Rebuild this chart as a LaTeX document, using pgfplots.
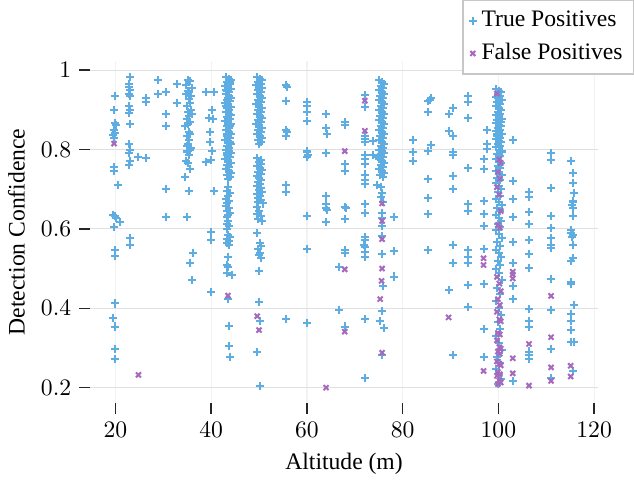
\documentclass[border=0pt]{standalone}
\usepackage{fontspec}
\setmainfont{Liberation Serif}
\usepackage{pgfplots}
\pgfplotsset{compat=1.18}
\definecolor{tpblue}{HTML}{5DADE2}
\definecolor{fppurple}{HTML}{A569BD}
\begin{document}
\begin{tikzpicture}
\begin{axis}[
  scale only axis, width=215pt, height=145pt,
  xmin=14.7, xmax=120.8, ymin=0.161, ymax=1.024,
  axis line style={draw=none},
  tick align=outside, major tick length=4.5pt,
  tick style={black!85, line width=0.6pt},
  xtick={20,40,60,80,100,120}, ytick={0.2,0.4,0.6,0.8,1},
  xtick pos=left, ytick pos=left,
  grid=major,
  y grid style={black!12, line width=0.5pt},
  x grid style={black!5, line width=0.5pt},
  xlabel={Altitude (m)}, ylabel={Detection Confidence},
  label style={font=\normalsize},
  legend style={at={(1.071,1.177)}, anchor=north east, draw=black!22, line width=0.6pt, font=\normalsize, row sep=1.5pt, inner sep=2.5pt},
  legend cell align=left,
  legend image code/.code={\draw[#1] plot coordinates {(0.1cm,0cm)};},
]
\addplot[only marks, mark=+, mark size=1.7pt, color=tpblue, mark options={line width=0.85pt, draw=tpblue}] table[row sep=\\] {
x y\\
19.8 0.935\\ 19.6 0.90\\ 19.9 0.868\\ 20.2 0.862\\ 19.6 0.848\\ 19.9 0.842\\ 19.5 0.836\\ 19.7 0.83\\ 19.7 0.755\\ 19.7 0.745\\ 20.6 0.71\\ 19.5 0.635\\ 19.9 0.632\\ 20.1 0.627\\ 20.9 0.617\\ 19.7 0.605\\ 20 0.547\\ 20 0.532\\ 20 0.412\\ 19.5 0.375\\ 19.8 0.354\\ 19.8 0.298\\ 19.9 0.272\\
23 0.983\\ 22.9 0.965\\ 22.8 0.958\\ 23 0.95\\ 22.9 0.94\\ 23 0.935\\ 22.9 0.91\\ 23 0.90\\ 22.9 0.893\\ 23 0.865\\ 22.9 0.815\\ 23 0.80\\ 22.9 0.79\\ 23 0.77\\ 22.9 0.76\\ 23 0.576\\ 23 0.56\\
24.8 0.78\\ 26.3 0.778\\ 26.3 0.93\\ 26.3 0.92\\ 28.8 0.975\\ 28.8 0.94\\ 30.5 0.945\\ 30.5 0.89\\ 30.5 0.86\\ 30.5 0.70\\ 30.5 0.63\\ 32.8 0.965\\ 32.8 0.917\\
35.2 0.975\\ 35.6 0.972\\ 34.8 0.962\\ 35.9 0.955\\ 35.1 0.948\\ 35.4 0.944\\ 34.7 0.94\\ 35.8 0.935\\ 35.3 0.928\\ 35.5 0.918\\ 35.0 0.91\\ 35.7 0.90\\ 35.2 0.895\\ 35.9 0.89\\ 35.4 0.885\\ 34.9 0.878\\ 35.6 0.87\\ 35.1 0.864\\ 34.6 0.86\\ 35.3 0.845\\ 35.5 0.84\\ 35.0 0.835\\ 35.4 0.825\\ 35.2 0.815\\ 34.9 0.81\\ 35.7 0.805\\ 35.6 0.80\\ 35.0 0.795\\ 35.3 0.785\\ 34.8 0.77\\ 35.1 0.765\\ 35.6 0.752\\ 34.5 0.73\\ 35.3 0.695\\ 35 0.63\\ 36.1 0.54\\ 35.6 0.515\\ 36 0.47\\
38.9 0.945\\ 40.5 0.945\\ 40.2 0.90\\ 39.5 0.88\\ 40.3 0.877\\ 39.7 0.843\\ 39.7 0.82\\ 40.2 0.797\\ 40 0.773\\ 38.9 0.768\\ 40.5 0.695\\ 40 0.593\\ 40 0.572\\ 40 0.44\\
43.0 0.983\\ 43.7 0.978\\ 44.1 0.974\\ 43.3 0.97\\ 43.9 0.965\\ 42.9 0.96\\ 43.5 0.956\\ 44.2 0.952\\ 43.2 0.948\\ 43.8 0.944\\ 43.0 0.94\\ 43.7 0.935\\ 44.1 0.93\\ 43.3 0.926\\ 43.9 0.922\\ 42.9 0.918\\ 43.5 0.913\\ 44.2 0.908\\ 43.2 0.904\\ 43.8 0.90\\ 43.0 0.895\\ 43.7 0.89\\ 44.1 0.886\\ 43.3 0.882\\ 43.9 0.878\\ 42.9 0.873\\ 43.5 0.868\\ 44.2 0.864\\ 43.2 0.86\\ 43.8 0.855\\ 43.0 0.85\\ 43.7 0.845\\ 44.1 0.84\\ 43.3 0.835\\ 43.9 0.83\\ 42.9 0.825\\ 43.5 0.82\\ 44.2 0.815\\ 43.2 0.81\\ 43.8 0.805\\ 43.0 0.80\\ 43.7 0.795\\ 44.1 0.79\\ 43.3 0.785\\ 43.9 0.78\\ 42.9 0.775\\ 43.5 0.77\\ 44.2 0.765\\ 43.2 0.76\\ 43.8 0.755\\ 43.0 0.75\\ 43.7 0.745\\ 44.1 0.74\\ 43.3 0.735\\ 43.9 0.73\\ 43.5 0.725\\
44.0 0.97\\ 43.1 0.95\\ 43.6 0.93\\ 43.1 0.91\\ 43.6 0.88\\ 44.0 0.86\\ 43.2 0.84\\ 43.9 0.82\\ 43.4 0.79\\
43.6 0.705\\ 43.2 0.695\\ 43.9 0.69\\ 43.5 0.683\\ 43.1 0.676\\ 43.8 0.67\\ 43.4 0.664\\ 43.0 0.658\\ 43.7 0.652\\ 43.3 0.646\\ 43.9 0.64\\ 43.5 0.635\\ 43.2 0.63\\ 43.6 0.62\\ 43.4 0.612\\ 43.8 0.607\\ 43.3 0.60\\ 43.5 0.585\\ 43.9 0.58\\ 43.2 0.575\\ 43.7 0.57\\ 43.4 0.565\\ 43.8 0.56\\ 43.6 0.53\\ 43.3 0.51\\ 43.5 0.505\\ 43.4 0.488\\ 44.3 0.484\\ 43.6 0.424\\ 43.8 0.356\\ 43.7 0.304\\ 43.9 0.278\\
49.5 0.983\\ 50.2 0.978\\ 50.7 0.974\\ 49.8 0.97\\ 50.4 0.966\\ 49.4 0.962\\ 50.0 0.958\\ 50.6 0.954\\ 49.7 0.95\\ 50.3 0.945\\ 49.5 0.94\\ 50.2 0.935\\ 50.7 0.93\\ 49.8 0.925\\ 50.4 0.92\\ 49.4 0.915\\ 50.0 0.91\\ 50.6 0.905\\ 49.7 0.90\\ 50.3 0.895\\ 49.5 0.89\\ 50.2 0.885\\ 50.7 0.88\\ 49.8 0.875\\ 50.4 0.87\\ 49.4 0.865\\ 50.0 0.86\\ 50.6 0.855\\ 49.7 0.85\\ 50.3 0.845\\ 49.5 0.84\\ 50.2 0.835\\ 50.7 0.83\\ 49.8 0.825\\ 50.4 0.82\\ 50.0 0.815\\
49.6 0.778\\ 50.3 0.773\\ 49.9 0.768\\ 50.5 0.763\\ 49.5 0.758\\ 50.1 0.753\\ 50.7 0.748\\ 49.8 0.743\\ 50.3 0.738\\ 49.6 0.733\\ 50.0 0.728\\ 50.5 0.723\\ 49.7 0.718\\ 50.2 0.713\\ 49.5 0.708\\ 50.4 0.703\\ 49.9 0.698\\ 50.6 0.693\\ 49.6 0.688\\ 50.1 0.683\\ 49.8 0.678\\ 50.3 0.673\\ 49.7 0.668\\
50.8 0.664\\ 49.5 0.655\\ 50.0 0.645\\ 49.6 0.638\\ 50.3 0.632\\ 49.7 0.625\\ 50.6 0.62\\ 49.6 0.589\\ 50.1 0.564\\ 50.5 0.558\\ 49.8 0.55\\ 50.2 0.54\\ 49.9 0.533\\ 50.4 0.526\\ 50.0 0.495\\ 50.0 0.416\\ 50.2 0.369\\ 49.6 0.29\\ 50.1 0.205\\
55.7 0.962\\ 55.9 0.958\\ 55.7 0.923\\ 55.6 0.85\\ 55.8 0.845\\ 55.7 0.835\\ 55.7 0.71\\ 55.7 0.693\\ 55.7 0.372\\
60.1 0.92\\ 60.1 0.91\\ 60.1 0.894\\ 60.1 0.872\\ 60.1 0.795\\ 60.2 0.787\\ 60.1 0.782\\ 60.1 0.633\\ 60.1 0.55\\ 60.1 0.363\\
64 0.89\\ 64 0.853\\ 64.1 0.838\\ 64 0.792\\ 64 0.683\\ 64 0.662\\ 64 0.652\\ 64.1 0.648\\ 64 0.618\\
66.7 0.505\\ 66.7 0.396\\
67.9 0.87\\ 67.9 0.862\\ 67.9 0.763\\ 67.9 0.746\\ 67.9 0.656\\ 68.1 0.652\\ 67.9 0.624\\ 67.9 0.547\\ 67.9 0.539\\ 67.9 0.354\\
72.1 0.937\\ 72.1 0.908\\ 72.1 0.835\\ 72.1 0.826\\ 72.1 0.82\\ 72.1 0.786\\ 72.1 0.777\\ 72.1 0.763\\ 72.1 0.737\\ 72.1 0.723\\ 72.1 0.713\\ 72.1 0.662\\ 72.1 0.641\\ 72.1 0.579\\ 72.1 0.572\\ 72 0.56\\ 72.1 0.555\\ 72.1 0.543\\ 72.1 0.53\\ 72.1 0.372\\ 72.1 0.225\\
73.9 0.822\\ 73.9 0.786\\
75.1 0.975\\ 75.7 0.97\\ 76.1 0.965\\ 75.4 0.96\\ 75.9 0.955\\ 75.0 0.95\\ 75.6 0.945\\ 76.2 0.94\\ 75.3 0.935\\ 75.8 0.93\\ 75.1 0.925\\ 75.7 0.92\\ 76.1 0.915\\ 75.4 0.91\\ 75.9 0.905\\ 75.0 0.90\\ 75.6 0.895\\ 76.2 0.89\\ 75.3 0.885\\ 75.8 0.88\\ 75.1 0.875\\ 75.7 0.87\\ 76.1 0.865\\ 75.4 0.86\\ 75.9 0.855\\ 75.0 0.85\\ 75.6 0.845\\ 76.2 0.84\\ 75.3 0.835\\ 75.8 0.83\\ 75.1 0.825\\ 75.7 0.82\\ 76.1 0.815\\ 75.4 0.81\\ 75.9 0.805\\ 75.0 0.80\\ 75.6 0.795\\ 76.2 0.79\\ 75.3 0.785\\ 75.8 0.78\\ 75.1 0.775\\ 75.7 0.77\\ 76.1 0.765\\ 75.4 0.76\\ 75.9 0.755\\ 75.0 0.75\\ 75.6 0.745\\ 76.2 0.74\\ 75.3 0.735\\ 75.8 0.73\\
75.5 0.706\\ 75.7 0.69\\ 75.4 0.68\\ 75.8 0.668\\ 75.6 0.64\\ 75.7 0.627\\ 75.6 0.608\\ 75.6 0.583\\ 75.7 0.537\\ 75.8 0.455\\ 75.7 0.394\\ 75.3 0.368\\ 76.0 0.35\\ 75.7 0.281\\ 74.6 0.71\\ 74.9 0.78\\
78.1 0.629\\ 78.1 0.544\\ 78.1 0.48\\
82.1 0.824\\ 82.1 0.793\\ 82.1 0.771\\
85.3 0.922\\ 85.3 0.895\\ 85.3 0.796\\ 85.3 0.726\\ 85.3 0.679\\ 85.3 0.637\\ 85.3 0.547\\ 86 0.929\\ 86 0.811\\ 85.8 0.925\\
89.6 0.889\\ 89.6 0.846\\ 89.6 0.446\\
90.5 0.905\\ 90.5 0.835\\ 90.5 0.794\\ 90.5 0.786\\ 90.5 0.733\\ 90.5 0.70\\ 90.5 0.56\\ 90.5 0.515\\ 90.5 0.281\\
93.6 0.935\\ 93.6 0.919\\ 93.6 0.88\\ 93.6 0.754\\ 93.6 0.662\\ 93.6 0.645\\ 93.6 0.547\\ 93.6 0.53\\ 93.6 0.513\\ 93.6 0.459\\ 93.6 0.404\\
96.9 0.775\\ 96.9 0.75\\ 96.9 0.67\\ 96.9 0.637\\ 96.9 0.607\\ 96.9 0.55\\ 96.9 0.46\\ 96.9 0.347\\ 96.9 0.277\\
97.6 0.85\\ 97.6 0.815\\ 97.6 0.801\\
99.6 0.952\\ 100.2 0.948\\ 100.6 0.944\\ 99.9 0.94\\ 100.4 0.936\\ 99.5 0.932\\ 100.1 0.928\\ 100.7 0.924\\ 99.8 0.92\\ 100.3 0.915\\ 99.6 0.91\\ 100.2 0.905\\ 100.6 0.90\\ 99.9 0.895\\ 100.4 0.89\\ 99.5 0.886\\ 100.1 0.882\\ 100.7 0.878\\ 99.8 0.874\\ 100.3 0.87\\ 99.6 0.866\\ 100.2 0.862\\ 100.6 0.858\\ 99.9 0.854\\ 100.4 0.85\\ 99.5 0.846\\ 100.1 0.842\\ 100.7 0.838\\ 99.8 0.834\\ 100.3 0.83\\ 99.6 0.826\\ 100.2 0.822\\ 100.6 0.818\\ 99.9 0.814\\ 100.4 0.81\\ 99.5 0.806\\ 100.1 0.80\\
100.0 0.93\\ 100.5 0.87\\ 99.7 0.84\\ 100.0 0.815\\
100.7 0.795\\ 99.8 0.789\\ 100.3 0.783\\ 99.6 0.777\\ 100.2 0.771\\ 100.6 0.765\\ 99.9 0.759\\ 100.4 0.753\\ 99.5 0.747\\ 100.1 0.741\\ 100.7 0.735\\ 99.8 0.729\\ 100.3 0.722\\ 99.6 0.715\\ 100.2 0.708\\ 100.6 0.70\\ 99.9 0.692\\ 100.4 0.684\\ 99.5 0.676\\ 100.1 0.668\\ 100.7 0.66\\ 99.8 0.652\\ 100.3 0.644\\ 99.6 0.636\\ 100.2 0.628\\ 100.6 0.62\\ 99.9 0.612\\ 100.4 0.604\\
99.5 0.596\\ 100.1 0.588\\ 100.7 0.578\\ 99.8 0.568\\ 100.3 0.558\\ 99.6 0.548\\ 100.2 0.538\\ 100.6 0.528\\ 99.9 0.518\\ 100.4 0.508\\ 99.5 0.498\\ 100.1 0.488\\ 100.7 0.47\\ 99.8 0.452\\ 100.3 0.436\\ 99.6 0.418\\ 100.2 0.40\\ 100.6 0.383\\ 99.9 0.365\\ 100.4 0.348\\ 99.5 0.33\\ 100.1 0.312\\ 100.7 0.295\\ 99.8 0.278\\ 100.3 0.262\\ 99.6 0.248\\ 100.2 0.235\\ 100.6 0.222\\ 99.9 0.21\\
103 0.824\\ 103 0.72\\ 103 0.675\\ 103 0.629\\ 103 0.568\\ 103 0.513\\ 103 0.455\\ 103 0.423\\ 103 0.217\\
106.4 0.692\\ 106.4 0.681\\ 106.4 0.643\\ 106.4 0.612\\ 106.4 0.572\\ 106.4 0.536\\ 106.4 0.502\\ 106.4 0.398\\ 106.4 0.368\\ 106.4 0.354\\ 106.4 0.291\\ 106.4 0.283\\ 106.4 0.273\\
111 0.79\\ 111 0.773\\ 111 0.702\\ 111 0.633\\ 111 0.603\\ 111 0.578\\ 111 0.56\\ 111 0.553\\ 111 0.474\\ 111 0.396\\ 111 0.298\\ 111 0.224\\
115.1 0.772\\ 115.6 0.742\\ 115.6 0.716\\ 115.7 0.69\\ 115.5 0.669\\ 115.4 0.66\\ 115.6 0.652\\ 115.6 0.633\\ 115.1 0.597\\ 115.1 0.589\\ 115.5 0.585\\ 115.3 0.58\\ 115.6 0.56\\ 115.5 0.526\\ 115.1 0.518\\ 115.1 0.467\\ 115.1 0.46\\ 115.7 0.408\\ 115.1 0.386\\ 115.1 0.368\\ 115.1 0.345\\ 115.1 0.316\\ 115.8 0.316\\ 115.6 0.241\\
};
\addlegendentry{True Positives}
\addplot[only marks, mark=x, mark size=1.5pt, color=fppurple, mark options={line width=0.85pt, draw=fppurple}] table[row sep=\\] {
x y\\
19.7 0.815\\ 24.8 0.232\\ 43.5 0.432\\ 49.6 0.38\\ 50.0 0.345\\ 64 0.2\\
67.9 0.796\\ 67.9 0.498\\ 67.9 0.341\\ 72.1 0.923\\ 72.1 0.847\\
75.7 0.664\\ 75.7 0.62\\ 75.7 0.574\\ 75.7 0.50\\ 75.6 0.469\\ 75.3 0.423\\ 75.7 0.288\\
89.6 0.377\\ 96.9 0.526\\ 96.9 0.509\\ 96.9 0.242\\
99.7 0.941\\ 100.2 0.775\\ 100.5 0.766\\ 99.9 0.743\\ 100.3 0.726\\ 99.7 0.705\\ 100.2 0.686\\ 100.5 0.645\\ 99.9 0.61\\ 100.3 0.603\\ 99.7 0.479\\ 100.2 0.462\\ 100.5 0.443\\ 99.9 0.423\\ 100.3 0.408\\ 99.7 0.391\\ 100.2 0.372\\ 100.5 0.367\\ 99.9 0.338\\ 100.3 0.334\\ 99.7 0.319\\ 100.2 0.302\\ 100.5 0.298\\ 99.9 0.291\\ 100.3 0.285\\ 99.7 0.266\\ 100.2 0.26\\ 100.5 0.256\\ 99.9 0.239\\ 100.3 0.234\\ 99.7 0.23\\ 100.2 0.218\\ 100.5 0.213\\ 99.9 0.209\\
103 0.492\\ 103 0.485\\ 103 0.475\\ 103 0.274\\ 103 0.236\\
106.4 0.31\\ 106.4 0.205\\
111 0.431\\ 111 0.327\\ 111 0.251\\ 111 0.217\\
115.1 0.255\\ 115.1 0.228\\
};
\addlegendentry{False Positives}
\end{axis}
\end{tikzpicture}
\end{document}
